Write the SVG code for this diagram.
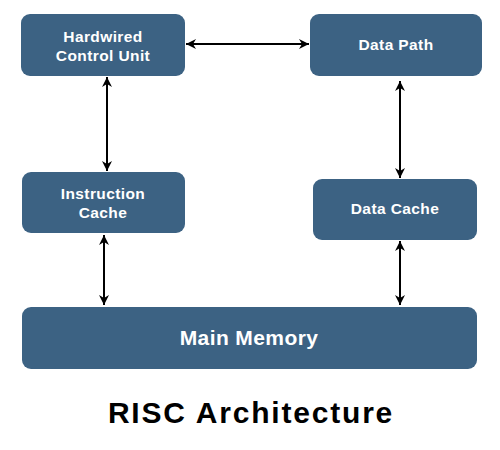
<svg xmlns="http://www.w3.org/2000/svg" width="500" height="450" viewBox="0 0 500 450">
<defs>
<marker id="ah" viewBox="0 0 10 10" refX="10" refY="5" markerWidth="10" markerHeight="10" markerUnits="userSpaceOnUse" orient="auto-start-reverse">
<path d="M0,0 L10,5 L0,10 L3,5 Z" fill="#000"/>
</marker>
<style>
.box{fill:#3c6283;}
.t{fill:#fff;font-family:"Liberation Sans",Arial,sans-serif;font-weight:bold;font-size:15.5px;text-anchor:middle;letter-spacing:0.4px;}
.c{stroke:#000;stroke-width:2;fill:none;marker-start:url(#ah);marker-end:url(#ah);}
</style>
</defs>
<rect width="500" height="450" fill="#fff"/>
<g id="hcu"><rect class="box" x="21" y="14" width="164" height="62" rx="9"/><text class="t" x="103" y="42">Hardwired</text><text class="t" x="103" y="61">Control Unit</text></g>
<g id="datapath"><rect class="box" x="310" y="14" width="172" height="62" rx="9"/><text class="t" x="396" y="50">Data Path</text></g>
<g id="icache"><rect class="box" x="22" y="172" width="163" height="61" rx="9"/><text class="t" x="103" y="199">Instruction</text><text class="t" x="103" y="218">Cache</text></g>
<g id="dcache"><rect class="box" x="313" y="179" width="164" height="61" rx="9"/><text class="t" x="395" y="214">Data Cache</text></g>
<g id="mainmem"><rect class="box" x="22" y="307" width="455" height="62" rx="9"/><text class="t" x="249" y="345" style="font-size:21px">Main Memory</text></g>
<g id="connectors">
<line class="c" x1="186" y1="44" x2="309" y2="44"/>
<line class="c" x1="107" y1="77" x2="107" y2="171"/>
<line class="c" x1="400" y1="81" x2="400" y2="178"/>
<line class="c" x1="104" y1="235" x2="104" y2="305"/>
<line class="c" x1="400" y1="241" x2="400" y2="305"/>
</g>
<text x="251" y="423" style="fill:#000;font-family:'Liberation Sans',Arial,sans-serif;font-weight:bold;font-size:30px;text-anchor:middle;letter-spacing:1.8px">RISC Architecture</text>
</svg>
